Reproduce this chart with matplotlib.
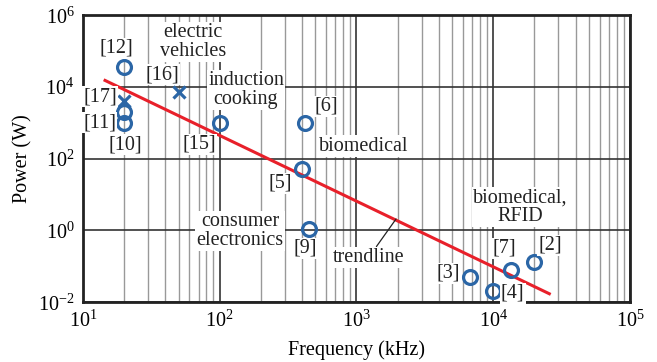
import matplotlib
matplotlib.use("Agg")
import matplotlib.pyplot as plt
from matplotlib.ticker import LogLocator, FixedLocator, NullLocator, NullFormatter, FuncFormatter

plt.rcParams['font.family'] = ['Liberation Serif', 'DejaVu Serif']
plt.rcParams['mathtext.fontset'] = 'custom'
plt.rcParams['mathtext.rm'] = 'Liberation Serif'

# 数据（频率 kHz, 功率 W）
circ_f = [20, 20, 20, 100, 420, 400, 450, 6780, 10000, 13560, 20000]
circ_p = [3.5e4, 2e3, 1e3, 1e3, 1e3, 50, 1.1, 0.05, 0.02, 0.08, 0.13]
cross_f = [20, 50]
cross_p = [4e3, 7e3]
trend_f = [14.5, 25700]
trend_p = [1.5e4, 0.017]
xticks = [1e1, 1e2, 1e3, 1e4, 1e5]
yticks = [1e-2, 1e0, 1e2, 1e4, 1e6]

blue = '#2b66a6'
red = '#e8202a'
fs = 14.5


def pow10(v, pos):
    e = int(round(np.log10(v)))
    return r'10$^{\mathrm{%s}}$' % (str(e) if e >= 0 else '-' + str(-e))


import numpy as np

fig = plt.figure(figsize=(6.57, 3.62), dpi=100)
ax = fig.add_axes([0.1263, 0.1657, 0.8326, 0.7929])
ax.set_xscale('log')
ax.set_yscale('log')
ax.set_xlim(10, 1e5)
ax.set_ylim(1e-2, 1e6)

ax.xaxis.set_major_locator(FixedLocator(xticks))
ax.xaxis.set_minor_locator(LogLocator(base=10, subs=range(2, 10), numticks=20))
ax.xaxis.set_minor_formatter(NullFormatter())
ax.yaxis.set_major_locator(FixedLocator(yticks))
ax.yaxis.set_minor_locator(NullLocator())
ax.xaxis.set_major_formatter(FuncFormatter(pow10))
ax.yaxis.set_major_formatter(FuncFormatter(pow10))

ax.grid(True, which='major', color='#333333', lw=1.2)
ax.grid(True, which='minor', axis='x', color='#999999', lw=1.0)
ax.set_axisbelow(True)
ax.tick_params(which='both', length=0, labelsize=fs, pad=6)
for s in ax.spines.values():
    s.set_linewidth(2)
    s.set_color('#222222')

ax.plot(trend_f, trend_p, color=red, lw=2.2, zorder=3)
ax.plot(circ_f, circ_p, 'o', ms=10, mfc='none', mec=blue, mew=2.3, zorder=4)
ax.plot(cross_f, cross_p, 'x', ms=9, mec=blue, mew=2.3, zorder=4)

box = dict(boxstyle='square,pad=0.05', fc='white', ec='none')
labels = [
    ('[12]', 17.4, 1.2e5), ('electric\nvehicles', 63.7, 1.77e5), ('[16]', 37.8, 2.13e4),
    ('induction\ncooking', 155.6, 8.1e3), ('[17]', 13.3, 5.2e3), ('[11]', 13.3, 977),
    ('[10]', 20.3, 238), ('[15]', 70.5, 253), ('[6]', 598, 2900),
    ('biomedical', 1135, 223), ('[5]', 275, 20.7), ('consumer\nelectronics', 140.6, 0.953),
    ('[9]', 420, 0.32), ('biomedical,\nRFID', 15700, 4.45), ('[7]', 12000, 0.32),
    ('[2]', 26000, 0.388), ('[3]', 4670, 0.0643), ('[4]', 13900, 0.0178),
]
for t, x, y in labels:
    ax.text(x, y, t, fontsize=fs, ha='center', va='center', linespacing=0.95,
            bbox=box, zorder=5, color='#222222')

ax.annotate('trendline', xy=(1946, 2.06), xytext=(1233, 0.179), fontsize=fs,
            ha='center', va='center', color='#222222', bbox=box, zorder=5,
            arrowprops=dict(arrowstyle='-', lw=0.9, color='#222222', shrinkA=0, shrinkB=0))

ax.set_xlabel('Frequency (kHz)', fontsize=fs, labelpad=6)
ax.set_ylabel('Power (W)', fontsize=fs, labelpad=4)

fig.savefig('out.png', dpi=100)
